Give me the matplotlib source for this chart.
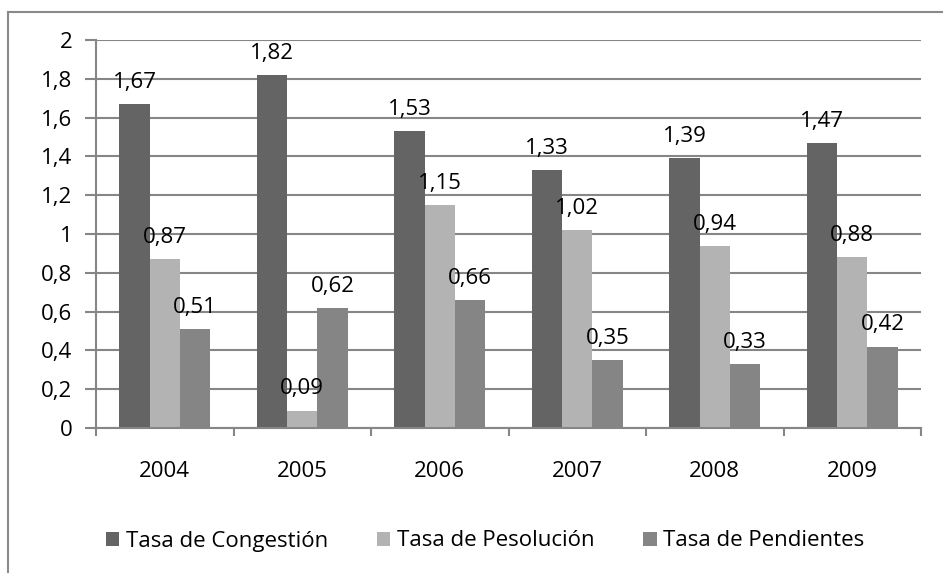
import numpy as np
from matplotlib import pyplot as plt
from matplotlib.lines import Line2D

""" =======================  Data ========================== """
years = ['2004', '2005', '2006', '2007', '2008', '2009']
congestion = [1.67, 1.82, 1.53, 1.33, 1.39, 1.47]
resolucion = [0.87, 0.09, 1.15, 1.02, 0.94, 0.88]
pendientes = [0.51, 0.62, 0.66, 0.35, 0.33, 0.42]
series_names = ['Tasa de Congestión', 'Tasa de Pesolución', 'Tasa de Pendientes']
colors = ['#646464', '#b3b3b3', '#858585']

plt.rcParams['font.family'] = ['Open Sans', 'DejaVu Sans']
fs = 16

""" =======================  Plot ========================== """
fig = plt.figure(figsize=(9.43, 5.73), dpi=100)
ax = fig.add_axes([96/943, 1 - 428/573, (921 - 96)/943, (428 - 40)/573])

x = np.arange(len(years))
w = 0.22
for k, (vals, name, c) in enumerate(zip([congestion, resolucion, pendientes], series_names, colors)):
    pos = x + (k - 1)*w
    ax.bar(pos, vals, width=w, color=c, label=name, zorder=2)
    for p, v in zip(pos, vals):
        ax.annotate(('%.2f' % v).replace('.', ','), (p, v), xytext=(0, 8),
                    textcoords='offset points', ha='center', va='bottom', fontsize=fs)

ax.set_xlim(-0.5, len(years) - 0.5)
ax.set_ylim(0, 2)
yt = np.arange(0, 2.01, 0.2)
ax.set_yticks(yt)
ax.set_yticklabels([('%g' % round(v, 1)).replace('.', ',') for v in yt], fontsize=fs)
ax.set_xticks(np.arange(-0.5, len(years)), minor=False)
ax.set_xticklabels([])
ax.set_xticks(x, minor=True)
ax.set_xticklabels(years, minor=True, fontsize=fs)
ax.tick_params(axis='x', which='minor', length=0, pad=24)
ax.tick_params(axis='x', which='major', length=6, color='#868686', width=1.5)
ax.tick_params(axis='y', length=8, color='#868686', width=1.5, pad=9)
ax.grid(axis='y', color='#868686', linewidth=1.5, zorder=0)
for s in ['top', 'right']:
    ax.spines[s].set_visible(False)
for s in ['left', 'bottom']:
    ax.spines[s].set_color('#868686')
    ax.spines[s].set_linewidth(1.5)

leg = fig.legend(loc='center', bbox_to_anchor=(485/943, 1 - 541/573), ncol=3, frameon=False,
                 fontsize=fs, handlelength=0.6, handleheight=0.6, handletextpad=0.3,
                 columnspacing=2.2)

# outer chart border
fig.add_artist(Line2D([8/943, 1], [1 - 12/573, 1 - 12/573], color='#8a8a8a', linewidth=1.5))
fig.add_artist(Line2D([8/943, 8/943], [0, 1 - 12/573], color='#8a8a8a', linewidth=1.5))

fig.savefig('out.png', dpi=100)
